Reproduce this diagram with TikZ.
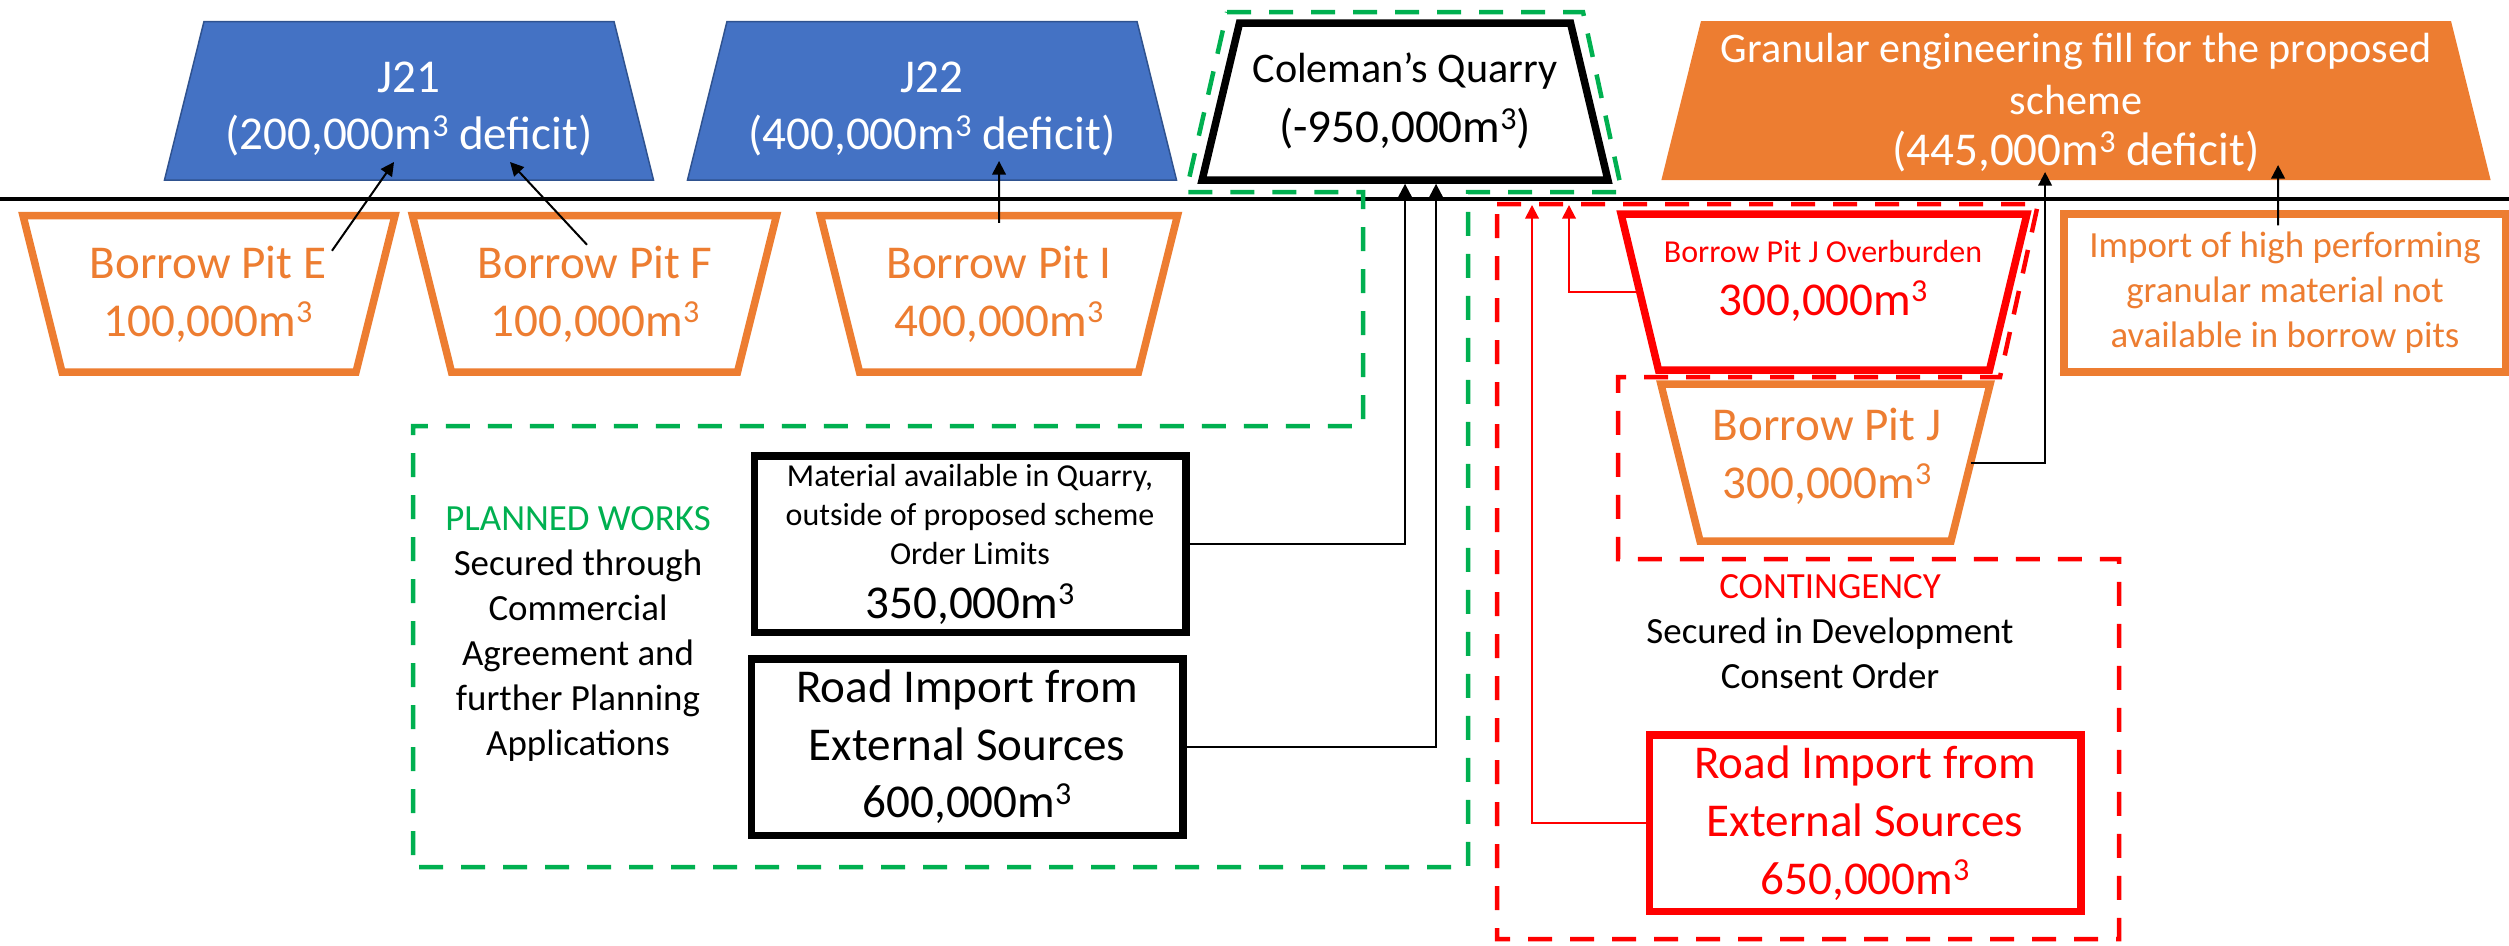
\documentclass[tikz,border=0pt]{standalone}
\usepackage{fontspec}
\setmainfont{Carlito}
\usetikzlibrary{arrows.meta,shapes.geometric,calc}
\definecolor{jblue}{HTML}{4472C4}
\definecolor{jblueline}{HTML}{2F528F}
\definecolor{porange}{HTML}{ED7D31}
\definecolor{pgreen}{HTML}{00B050}
\definecolor{cred}{HTML}{FF0000}
\newcommand{\numfont}{\fontsize{13.4}{16.4}\selectfont}
\newcommand{\mcube}{m\raisebox{0.29em}{\scalebox{0.68}{3}}}

\begin{document}
\begin{tikzpicture}[
  x=0.1mm, y=-0.1mm,
  bigtxt/.style={font=\numfont, align=center},
  medtxt/.style={font=\fontsize{12}{14.65}\selectfont, align=center},
  midtxt/.style={font=\fontsize{10.5}{12.8}\selectfont, align=center},
  smalltxt/.style={font=\fontsize{9.1}{11.1}\selectfont, align=center},
  trap/.style={trapezium, trapezium angle=76, inner sep=0pt, outer sep=0pt,
               text depth=0pt, text height=15.7mm},
  junction/.style={trap, fill=jblue, draw=jblueline, line width=0.15mm,
                   text width=41mm, text height=15.85mm},
  pit/.style={trap, shape border rotate=180, draw=porange, fill=white,
              line width=0.75mm, text height=15.65mm},
  box/.style={draw, fill=white, line width=0.75mm, minimum width=43.15mm,
              minimum height=17.65mm, inner sep=0pt, align=center},
  arr/.style={-{Triangle[length=1.35mm, width=1.35mm]}, line width=0.2mm},
  zone/.style={line width=0.45mm, dash pattern=on 2.4mm off 1.8mm}
]
  \useasboundingbox (0,0) rectangle (2509,945);

  % Ground line
  \draw[line width=0.33mm] (0,199) -- (2509,199);

  % Planned works and contingency zones
  \draw[zone, pgreen] (1227,12) -- (1583,12) -- (1622,192) -- (1468,192)
    -- (1468,867) -- (413,867) -- (413,426) -- (1363,426) -- (1363,192)
    -- (1186,192) -- cycle;
  \draw[zone, cred] (1497,204) -- (2038,204) -- (2000,377) -- (1618,377)
    -- (1618,559) -- (2119,559) -- (2119,939) -- (1497,939) -- cycle;

  % Junctions
  \node[junction] (j21) at (409,100.75) {};
  \node[bigtxt, text=white] (j21txt) at (409,109) {J21\\(200,000\mcube{} deficit)};
  \node[junction] (j22) at (932,100.75) {};
  \node[bigtxt, text=white] (j22txt) at (932,109) {J22\\(400,000\mcube{} deficit)};

  % Quarry
  \node[trap, draw, fill=white, line width=0.75mm, trapezium angle=76.6,
        text width=33.1mm] (quarry) at (1405,101.5) {};
  \node[medtxt] (quarrytxt) at (1405,101)
        {Coleman’s Quarry\\[0.9mm]{\numfont (-950,000\mcube)}};

  % Granular fill
  \node[trap, fill=porange, text width=75mm, text height=15.9mm] (gfill) at (2076,100.5) {};
  \node[medtxt, text=white] (gfilltxt) at (2076,103)
        {Granular engineering fill for the proposed\\scheme\\{\numfont (445,000\mcube{} deficit)}};

  % Borrow pits
  \node[pit, text width=29.4mm] (pitE) at (209,293.75) {};
  \node[bigtxt, text=porange] (pitEtxt) at (208,294) {Borrow Pit E\\100,000\mcube};
  \node[pit, text width=28.6mm] (pitF) at (594.5,293.75) {};
  \node[bigtxt, text=porange] (pitFtxt) at (595,294) {Borrow Pit F\\100,000\mcube};
  \node[pit, text width=27.9mm] (pitI) at (999,293.75) {};
  \node[bigtxt, text=porange] (pitItxt) at (999,294) {Borrow Pit I\\400,000\mcube};

  \node[trap, shape border rotate=180, draw=cred, fill=white, line width=0.75mm,
        trapezium angle=76.5, text width=33.1mm, text height=15.6mm] (pitJo) at (1824,292) {};
  \node[smalltxt, text=cred] (pitJotxt) at (1823,281)
        {Borrow Pit J Overburden\\[1.4mm]{\numfont 300,000\mcube}};
  \node[pit, text width=25.1mm, text height=15.7mm] (pitJ) at (1825.5,462.5) {};
  \node[bigtxt, text=porange] (pitJtxt) at (1827,456) {Borrow Pit J\\300,000\mcube};

  % Import box
  \node[box, midtxt, draw=porange, text=porange, minimum width=44.2mm,
        minimum height=15.8mm] (imp) at (2285,293)
        {Import of high performing\\granular material not\\available in borrow pits};

  % Planned works
  \node[midtxt] (plan) at (578,634) {\textcolor{pgreen}{PLANNED WORKS}\\Secured through\\Commercial\\Agreement and\\further Planning\\Applications};
  \node[box, font=\fontsize{9.1}{11.1}\selectfont] (mat) at (970,544)
        {Material available in Quarry,\\outside of proposed scheme\\Order Limits\\[1.5mm]{\numfont 350,000\mcube}};
  \node[box, bigtxt] (road) at (967,747) {Road Import from\\External Sources\\600,000\mcube};

  % Contingency
  \node[midtxt] (cont) at (1830,632) {\textcolor{cred}{CONTINGENCY}\\Secured in Development\\Consent Order};
  \node[box, bigtxt, draw=cred, text=cred] (croad) at (1865,823) {Road Import from\\External Sources\\650,000\mcube};

  \coordinate (ctop1) at (1532,205);
  \coordinate (ctop2) at (1569,205);

  % Arrows
  \draw[arr] ($(pitE.center)+(123,-43)$) -- ($(j21.south)+(-15,-18)$);
  \draw[arr] ($(pitF.center)+(-7.5,-49)$) -- ($(j21.south)+(101,-18)$);
  \draw[arr] ($(pitI.center)+(0,-71)$) -- ($(j22.south)+(67,-19)$);
  \draw[arr] (mat.east) -| ($(quarry.south)+(0,3.75)$);
  \draw[arr] (road.east) -| ($(quarry.south)+(31,3.75)$);
  \draw[arr, cred] (croad.west) -| (ctop1);
  \draw[arr, cred] (pitJo.180) -| (ctop2);
  \draw[arr] (pitJ.0) -| ($(gfill.south)+(-31,-8)$);
  \draw[arr] ($(imp.north)+(-7,15)$) -- ($(gfill.south)+(202,-15)$);
\end{tikzpicture}
\end{document}
